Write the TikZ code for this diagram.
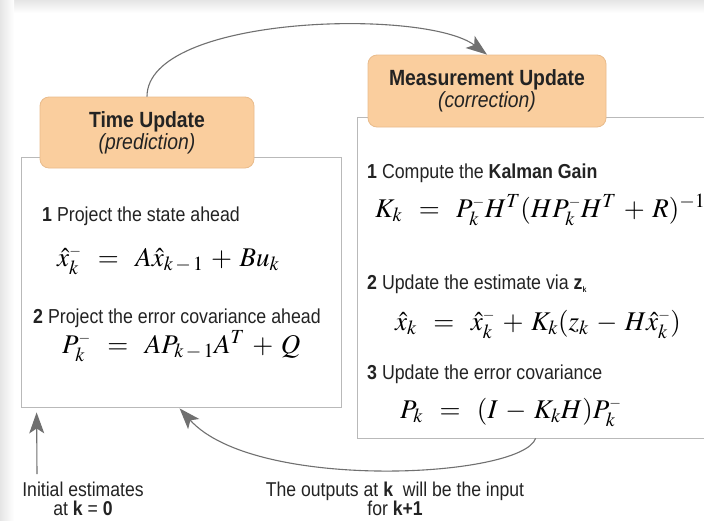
\documentclass[tikz,border=0pt]{standalone}
\usepackage{mathptmx}
\usepackage[no-math]{fontspec}
\setmainfont{Liberation Sans}[FakeStretch=0.88]
\usetikzlibrary{arrows.meta,calc}
\DeclareMathSizes{27}{27}{20}{15}
\definecolor{boxfill}{RGB}{250,206,158}
\definecolor{boxline}{RGB}{233,188,140}
\definecolor{panelline}{RGB}{185,185,185}
\definecolor{arrowgray}{RGB}{112,112,112}
\definecolor{inkdark}{RGB}{35,35,35}
\newcommand{\mn}{^{\scriptscriptstyle -}}
\newcommand{\km}{k\,-\,1}
\begin{document}
\thickmuskip=11mu plus 2mu
\medmuskip=5mu plus 1mu minus 1mu
\begin{tikzpicture}[x=1pt,y=-1pt,
  panel/.style={draw=panelline, line width=0.8pt, fill=white, inner sep=0},
  titlebox/.style={draw=boxline, fill=boxfill, rounded corners=9pt, line width=0.8pt,
    align=center, inner sep=0, text=inkdark, font=\fontsize{22}{22}\selectfont},
  lbl/.style={anchor=base west, inner sep=0, text=inkdark, font=\fontsize{20.2}{22}\selectfont},
  eq/.style={anchor=base west, inner sep=0, text=black, font=\fontsize{27}{30}\selectfont},
  note/.style={align=center, inner sep=0, text=inkdark, font=\fontsize{20}{19}\selectfont},
  conn/.style={draw=arrowgray, line width=1.1pt, -{Stealth[length=21pt,width=15pt,inset=5pt]}}
]
\useasboundingbox (0,0) rectangle (704,520);
\clip (0,0) rectangle (704,520);
% background frame shadow
\shade[top color=black!10, bottom color=white] (0,0) rectangle (704,13);
\shade[left color=black!10, right color=white] (0,0) rectangle (14,520);
\fill[white] (14,13) rectangle (704,520);

% panels
\node[panel, minimum width=320pt, minimum height=250pt] (lp) at (181,282) {};
\node[panel, minimum width=403pt, minimum height=321pt] (rp) at (558.5,277.5) {};

% title boxes
\node[titlebox, minimum width=214pt, minimum height=71pt] (tu) at (147,132.5)
  {\bfseries Time Update\\{\mdseries\itshape (prediction)}};
\node[titlebox, minimum width=238pt, minimum height=72pt] (mu) at (487,91)
  {\bfseries Measurement Update\\{\mdseries\itshape (correction)}};

% left panel contents
\node[lbl] (l1) at (42,221) {\textbf{1} Project the state ahead};
\node[eq] (e1) at (57,266) {$\hat{x}_k\mn = A\hat{x}_{\km} + Bu_k$};
\node[lbl] (l2) at (33,323) {\textbf{2} Project the error covariance ahead};
\node[eq] (e2) at (62,353) {$P_k\mn = AP_{\km}A^T + Q$};

% right panel contents
\node[lbl] (r1) at (367,178) {\textbf{1} Compute the \textbf{Kalman Gain}};
\node[eq] (e3) at (375,217) {$K_k = P_k\mn H^T(HP_k\mn H^T+R)^{-1}$};
\node[lbl] (r2) at (367,289) {\textbf{2} Update the estimate via \textbf{z}\raisebox{-3pt}{\fontsize{8}{8}\selectfont\bfseries k}};
\node[eq] (e4) at (395,330) {$\hat{x}_k = \hat{x}_k\mn + K_k(z_k - H\hat{x}_k\mn)$};
\node[lbl] (r3) at (367,379) {\textbf{3} Update the error covariance};
\node[eq] (e5) at (400,418) {$P_k = (I - K_kH)P_k\mn$};

% notes
\node[note] (n1) at (83,499) {Initial estimates\\at \textbf{k} = \textbf{0}};
\node[note] (n2) at (395,499) {The outputs at \textbf{k}\ \ will be the input\\for \textbf{k+1}};

% connector anchor points
\coordinate (tuOut) at (tu.north);
\coordinate (muIn) at (mu.north);
\coordinate (rpOut) at ($(rp.south west)+(179,0)$);
\coordinate (lpIn) at ($(lp.south west)+(159,1)$);
\coordinate (initFoot) at (37,474);
\coordinate (initTip) at ($(lp.south west)+(16,5)$);

% connectors
\draw[conn] (tuOut) .. controls (147,15) and (425,8) .. (muIn);
\draw[conn] (rpOut) .. controls (522,478) and (255,492) .. (lpIn);
\draw[conn] (initFoot) -- (initTip);
\end{tikzpicture}
\end{document}
